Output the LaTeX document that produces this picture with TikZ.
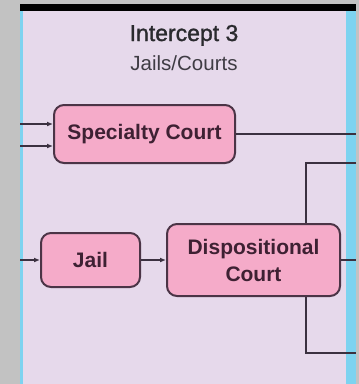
\documentclass[tikz,border=0pt]{standalone}
\usepackage{fontspec}
\setmainfont{Liberation Sans}
\newfontface\titlefont{Liberation Sans}[FakeBold=1.3]
\usetikzlibrary{arrows.meta}
\definecolor{bggray}{HTML}{C2C2C2}
\definecolor{panel}{HTML}{E6D9EB}
\definecolor{edgeblue}{HTML}{7DD3F0}
\definecolor{boxpink}{HTML}{F5ABC9}
\definecolor{boxline}{HTML}{4B3446}
\definecolor{boxtext}{HTML}{3E2133}
\definecolor{wireclr}{HTML}{3B3140}
\definecolor{titleclr}{HTML}{2A2A2E}
\definecolor{subclr}{HTML}{3F3C44}
\tikzset{
  court/.style={draw=boxline, line width=2pt, fill=boxpink, rounded corners=10pt,
    text=boxtext, font=\fontsize{21}{27}\selectfont\bfseries, align=center, inner sep=0pt},
  wire/.style={draw=wireclr, line width=1.6pt},
  feed/.style={wire, -{Latex[length=6pt,width=5pt]}}
}
\begin{document}
\begin{tikzpicture}[x=1pt,y=-1pt]
    \useasboundingbox (0,0) rectangle (359,384);
    \fill[bggray] (0,0) rectangle (359,384);
    \fill[panel] (20,4) rectangle (356,384);
    \fill[edgeblue] (20,11) rectangle (23,384);
    \fill[edgeblue] (346,11) rectangle (356,384);
    \fill[black] (20,4) rectangle (356,11);

    \coordinate (I1) at (20,124);
    \coordinate (I2) at (20,146);
    \coordinate (I3) at (20,260);
    \coordinate (E) at (356,0);
    \coordinate (T) at (306,163);
    \coordinate (B) at (306,353);

    \node[court, minimum width=181pt, minimum height=58pt] (S) at (144.5,134) {Specialty Court};
    \node[court, minimum width=99pt, minimum height=54pt] (J) at (90.5,260) {Jail};
    \node[court, minimum width=173pt, minimum height=72pt] (D) at (253.5,260) {Dispositional\\Court};

    \draw[feed] (I1) -- (I1 -| S.west);
    \draw[feed] (I2) -- (I2 -| S.west);
    \draw[wire] (S.east) -- (S.east -| E);
    \draw[wire] (E |- T) -- (T) -- (T |- D.north);
    \draw[feed] (I3) -- (J.west);
    \draw[feed] (J.east) -- (D.west);
    \draw[wire] (D.east) -- (D.east -| E);
    \draw[wire] (T |- D.south) -- (B) -- (B -| E);

    \node[font=\titlefont\fontsize{23}{28}\selectfont, text=titleclr, anchor=base] (title) at (184,41) {Intercept 3};
    \node[font=\fontsize{20.5}{25}\selectfont, text=subclr, anchor=base] (sub) at (184,70) {Jails/Courts};
\end{tikzpicture}
\end{document}
